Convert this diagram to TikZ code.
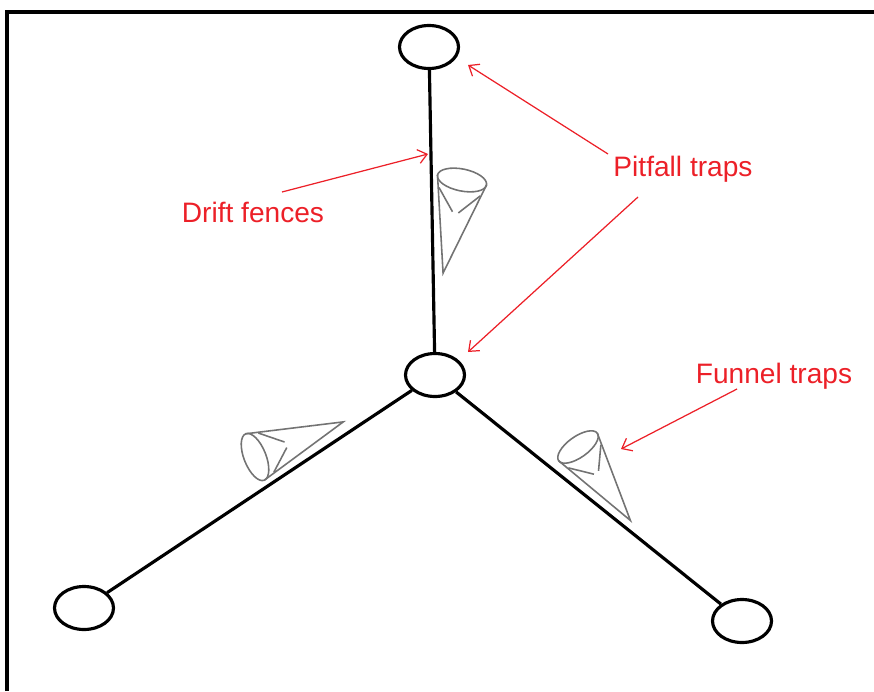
\documentclass[tikz,border=0pt]{standalone}
\usepackage{fontspec}
\setmainfont{Liberation Sans}
\usetikzlibrary{shapes.geometric,arrows.meta}
\definecolor{labelred}{RGB}{236,32,40}
\tikzset{funnel/.pic={
	%rim of the funnel, its sides and the mouth inside
	\draw[cone] (0,0) ellipse [x radius=11, y radius=25];
	\draw[cone] (0,25) -- (95,0) -- (0,-25);
	\draw[cone] (12,21) -- (33,3);
	\draw[cone] (12,-21) -- (33,-3);
}}
\begin{document}
\begin{tikzpicture}[x=0.02cm,y=0.02cm,
		pit/.style={ellipse,draw,line width=1.8pt,minimum width=1.18cm,minimum height=0.86cm,inner sep=0pt},
		fence/.style={line width=1.8pt},
		cone/.style={black!55,line width=0.9pt},
		lbl/.style={text=labelred,font=\fontsize{16}{19}\selectfont,inner sep=0pt,anchor=base},
		pointer/.style={labelred,line width=0.7pt,-{Straight Barb[length=5pt,width=8pt]}}]
	\useasboundingbox (0,0) rectangle (874,691);
	%frame
	\draw[line width=1.8pt] (7,0) -- (7,679) -- (874,679);

	%pitfall traps
	\node[pit] (pitN) at (429,644) {};
	\node[pit] (pitC) at (435,316) {};
	\node[pit] (pitW) at (84,83) {};
	\node[pit] (pitE) at (742,70) {};

	%drift fences between the traps
	\draw[fence] (pitC) -- (pitN);
	\draw[fence] (pitC) -- (pitW);
	\draw[fence] (pitC) -- (pitE);

	%funnel traps along the fences
	\pic[rotate=-101.5] at (462,511) {funnel};
	\pic[rotate=21.7] at (255,234) {funnel};
	\pic[rotate=-54.5,scale=0.95] at (578,244) {funnel};

	%labels
	\node[lbl] (drift) at (253,469) {Drift fences};
	\node[lbl] (pitfall) at (683,515) {Pitfall traps};
	\node[lbl] (funnels) at (774,308) {Funnel traps};

	\coordinate (dftail) at (282,499);
	\coordinate (dfhead) at (428,537);
	\coordinate (pftailA) at (608,537);
	\coordinate (pfheadA) at (468,626);
	\coordinate (pftailB) at (638,494);
	\coordinate (pfheadB) at (468,339);
	\coordinate (fntail) at (737,302);
	\coordinate (fnhead) at (621,242);

	\draw[pointer] (dftail) -- (dfhead);
	\draw[pointer] (pftailA) -- (pfheadA);
	\draw[pointer] (pftailB) -- (pfheadB);
	\draw[pointer] (fntail) -- (fnhead);
\end{tikzpicture}
\end{document}
